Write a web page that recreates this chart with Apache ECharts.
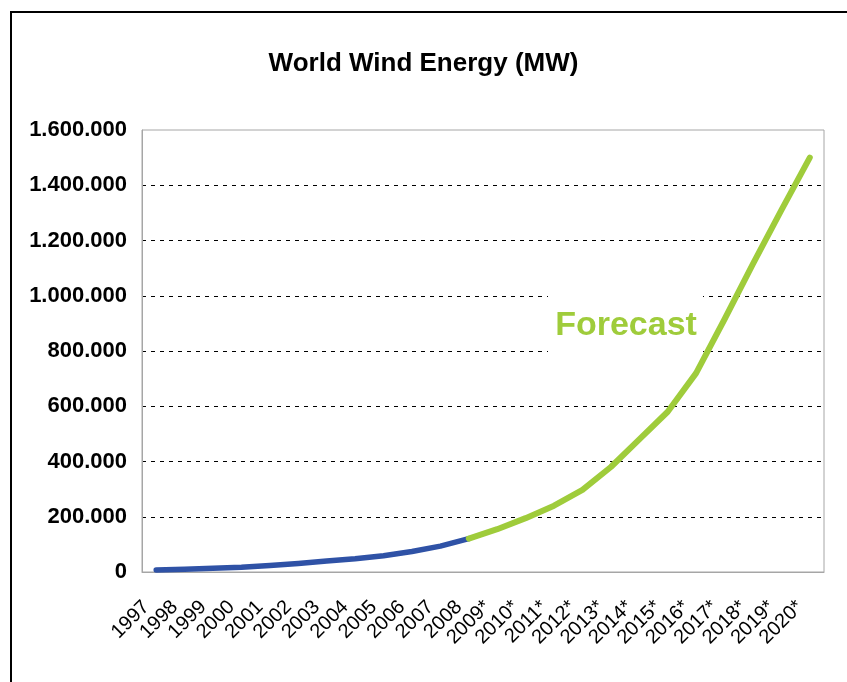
<!DOCTYPE html>
<html>
<head>
<meta charset="utf-8">
<script src="https://cdn.jsdelivr.net/npm/echarts@6/dist/echarts.min.js"></script>
<style>
html,body{margin:0;padding:0;background:#fff;}
#chart{width:847px;height:682px;}
</style>
</head>
<body>
<div id="chart"></div>
<script>
const years = ['1997','1998','1999','2000','2001','2002','2003','2004','2005','2006','2007','2008',
  '2009*','2010*','2011*','2012*','2013*','2014*','2015*','2016*','2017*','2018*','2019*','2020*'];
const historical = [7600, 10200, 13600, 17400, 23900, 31100, 39400, 47600, 59100, 74100, 93800, 120800];
const forecast = [155000, 195000, 240000, 297000, 380000, 480000, 580000, 720000, 915000, 1115000, 1310000, 1500000];
const yTicks = [0, 200000, 400000, 600000, 800000, 1000000, 1200000, 1400000, 1600000];

const histSeries = years.map((y, i) => i < historical.length ? historical[i] : null);
const foreSeries = years.map((y, i) => {
  if (i === historical.length - 1) return historical[i];
  if (i >= historical.length) return forecast[i - historical.length];
  return null;
});

function fmt(v) {
  return String(v).replace(/\B(?=(\d{3})+(?!\d))/g, '.');
}

const chart = echarts.init(document.getElementById('chart'));
chart.setOption({
  animation: false,
  backgroundColor: '#fff',
  title: {
    text: 'World Wind Energy (MW)',
    left: 'center',
    top: 46,
    textStyle: { fontFamily: 'Liberation Sans', fontWeight: 'bold', fontSize: 26, color: '#000' }
  },
  grid: {
    left: 142, right: 23, top: 130, bottom: 110,
    show: true, borderColor: '#a6a6a6', borderWidth: 1
  },
  xAxis: {
    type: 'category',
    data: years,
    boundaryGap: true,
    axisLine: { lineStyle: { color: '#a6a6a6', width: 1 } },
    axisTick: { show: false },
    axisLabel: {
      interval: 0, rotate: 45, margin: 22, padding: [0, 14, 0, 0],
      fontFamily: 'Liberation Sans', fontSize: 20, color: '#000'
    }
  },
  yAxis: {
    type: 'value',
    min: yTicks[0], max: yTicks[yTicks.length - 1], interval: yTicks[1] - yTicks[0],
    axisLine: { show: true, lineStyle: { color: '#a6a6a6', width: 1 } },
    axisTick: { show: false },
    axisLabel: {
      margin: 15, formatter: fmt,
      fontFamily: 'Liberation Sans', fontWeight: 'bold', fontSize: 22, color: '#000'
    },
    splitLine: {
      show: true, showMinLine: false, showMaxLine: false,
      lineStyle: { color: '#000', type: [4, 5], width: 1 }
    }
  },
  graphic: [
    {
      type: 'rect', z: 1, silent: true,
      shape: { x: 548, y: 288, width: 155, height: 72 },
      style: { fill: '#fff' }
    },
    {
      type: 'text', z: 1, silent: true,
      x: 626, y: 326,
      style: {
        text: 'Forecast', fill: '#9fcc3b',
        font: 'bold 34px "Liberation Sans"',
        textAlign: 'center', textVerticalAlign: 'middle'
      }
    },
    {
      type: 'rect', z: 10, silent: true,
      shape: { x: 11, y: 12, width: 900, height: 800 },
      style: { fill: 'none', stroke: '#000', lineWidth: 2 }
    }
  ],
  series: [
    {
      name: 'Historical', type: 'line', data: histSeries,
      showSymbol: false, smooth: false, z: 3,
      lineStyle: { color: '#2f52a6', width: 5.5, cap: 'round', join: 'round' },
      itemStyle: { color: '#2f52a6' }
    },
    {
      name: 'Forecast', type: 'line', data: foreSeries,
      showSymbol: false, smooth: false, z: 3,
      lineStyle: { color: '#9fcc3b', width: 6, cap: 'round', join: 'round' },
      itemStyle: { color: '#9fcc3b' }
    }
  ]
});
</script>
</body>
</html>
